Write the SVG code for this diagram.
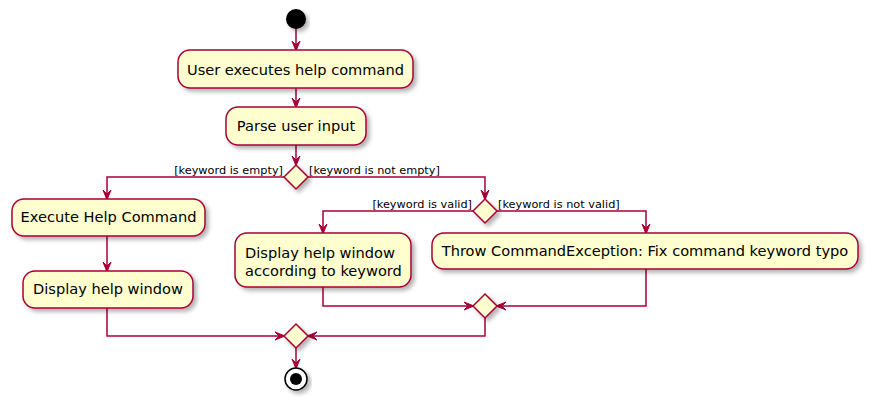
<svg xmlns="http://www.w3.org/2000/svg" width="875" height="406" viewBox="0 0 875 406">
<defs>
<filter id="sh" x="-10%" y="-20%" width="130%" height="150%">
<feDropShadow dx="3" dy="3" stdDeviation="2" flood-color="#000" flood-opacity="0.3"/>
</filter>
<marker id="ar" viewBox="0 0 10 10" refX="9" refY="5" markerWidth="10" markerHeight="10" markerUnits="userSpaceOnUse" orient="auto">
<polygon points="0,1 10,5 0,9 4,5" fill="#A80036" stroke="#A80036" stroke-width="1"/>
</marker>
</defs>
<style>
.box{fill:#FEFECE;stroke:#A80036;stroke-width:1.5;filter:url(#sh)}
.dia{fill:#FEFECE;stroke:#A80036;stroke-width:1.5;filter:url(#sh)}
.t{font-family:"DejaVu Sans","Liberation Sans",sans-serif;font-size:14.6px;fill:#000}
.l{font-family:"DejaVu Sans","Liberation Sans",sans-serif;font-size:11.3px;fill:#000}
.c{fill:none;stroke:#A80036;stroke-width:1.5;marker-end:url(#ar)}
</style>
<rect width="875" height="406" fill="#fff"/>
<g id="connectors">
<path class="c" d="M296,29 V50"/>
<path class="c" d="M296,88 V107"/>
<path class="c" d="M296,145 V165"/>
<path class="c" d="M284,177 H107 V199"/>
<path class="c" d="M308,177 H485 V199"/>
<path class="c" d="M107,236 V271"/>
<path class="c" d="M473,211 H323 V233"/>
<path class="c" d="M497,211 H646 V233"/>
<path class="c" d="M323,287 V306 H473"/>
<path class="c" d="M646,269 V306 H497"/>
<path class="c" d="M107,308 V336 H284"/>
<path class="c" d="M485,318 V336 H308"/>
<path class="c" d="M296,348 V368"/>
<text class="l" x="283" y="174" text-anchor="end">[keyword is empty]</text>
<text class="l" x="309" y="174">[keyword is not empty]</text>
<text class="l" x="472" y="208" text-anchor="end">[keyword is valid]</text>
<text class="l" x="498" y="208">[keyword is not valid]</text>
</g>
<g id="start"><circle cx="296" cy="19" r="10" fill="#000" filter="url(#sh)"/></g>
<g id="user-executes"><rect class="box" x="178" y="50" width="235" height="38" rx="12"/><text class="t" x="295.5" y="75" text-anchor="middle">User executes help command</text></g>
<g id="parse"><rect class="box" x="226" y="107" width="140" height="38" rx="12"/><text class="t" x="296" y="131" text-anchor="middle">Parse user input</text></g>
<g id="d1"><polygon class="dia" points="296,165 308,177 296,189 284,177"/></g>
<g id="exec"><rect class="box" x="12" y="199" width="193" height="37" rx="12"/><text class="t" x="108.5" y="222" text-anchor="middle">Execute Help Command</text></g>
<g id="display"><rect class="box" x="23" y="271" width="170" height="37" rx="12"/><text class="t" x="108" y="294" text-anchor="middle">Display help window</text></g>
<g id="d2"><polygon class="dia" points="485,199 497,211 485,223 473,211"/></g>
<g id="display-kw"><rect class="box" x="235" y="233" width="176" height="54" rx="12"/><text class="t" x="245" y="258">Display help window</text><text class="t" x="245" y="276">according to keyword</text></g>
<g id="throw"><rect class="box" x="432" y="233" width="426" height="36" rx="12"/><text class="t" x="645" y="256" text-anchor="middle">Throw CommandException: Fix command keyword typo</text></g>
<g id="d3"><polygon class="dia" points="485,294 497,306 485,318 473,306"/></g>
<g id="d4"><polygon class="dia" points="296,324 308,336 296,348 284,336"/></g>
<g id="end"><circle cx="296" cy="379" r="11" fill="#fff" stroke="#000" stroke-width="1.5" filter="url(#sh)"/><circle cx="296" cy="379" r="6" fill="#000"/></g>
</svg>
